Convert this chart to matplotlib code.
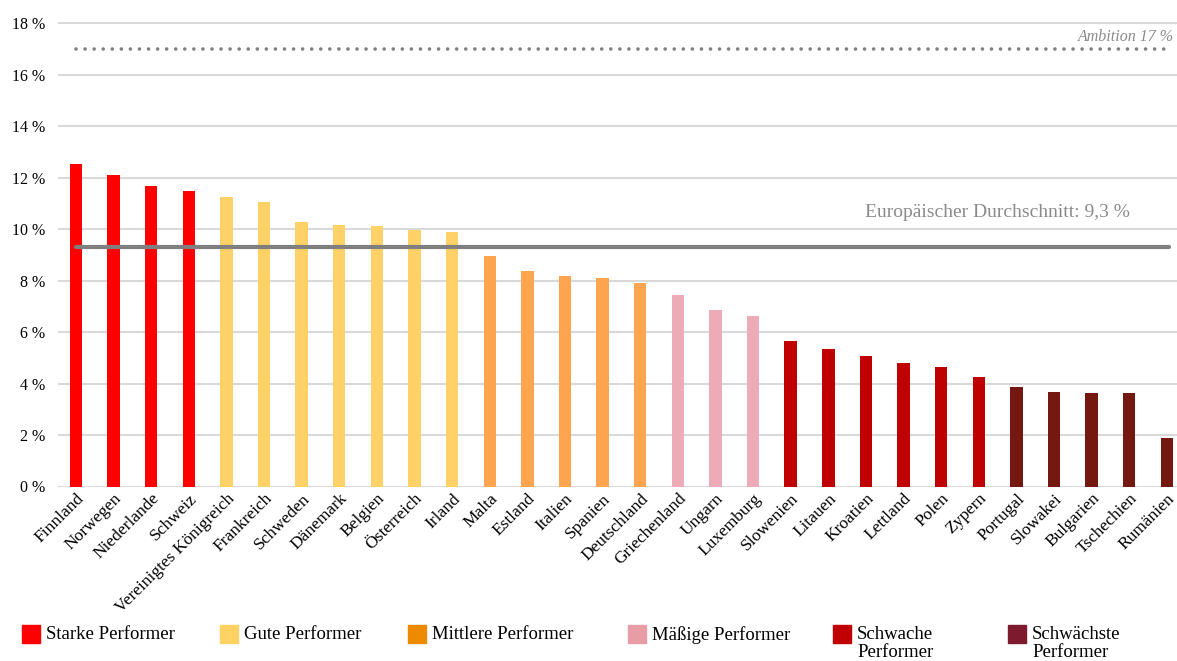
import matplotlib
matplotlib.use("Agg")
import matplotlib.pyplot as plt
from matplotlib.patches import Rectangle

countries = ["Finnland", "Norwegen", "Niederlande", "Schweiz", "Vereinigtes Königreich",
             "Frankreich", "Schweden", "Dänemark", "Belgien", "Österreich", "Irland",
             "Malta", "Estland", "Italien", "Spanien", "Deutschland", "Griechenland",
             "Ungarn", "Luxemburg", "Slowenien", "Litauen", "Kroatien", "Lettland",
             "Polen", "Zypern", "Portugal", "Slowakei", "Bulgarien", "Tschechien", "Rumänien"]
values = [12.55, 12.09, 11.66, 11.48, 11.25, 11.05, 10.26, 10.18, 10.12, 9.97, 9.89,
          8.96, 8.36, 8.17, 8.10, 7.89, 7.46, 6.84, 6.63, 5.66, 5.34, 5.06, 4.81,
          4.63, 4.26, 3.86, 3.66, 3.63, 3.63, 1.87]
groups = [0] * 4 + [1] * 7 + [2] * 5 + [3] * 3 + [4] * 6 + [5] * 5

group_names = ["Starke Performer", "Gute Performer", "Mittlere Performer",
               "Mäßige Performer", "Schwache\nPerformer", "Schwächste\nPerformer"]
bar_colors = ["#FF0000", "#FFD166", "#FFA44F", "#EDABB7", "#C00000", "#741811"]
legend_colors = ["#FF0000", "#FFD264", "#EE8A00", "#E89CA6", "#C00000", "#7E1A2E"]

average = 9.3
ambition = 17
yticks = [0, 2, 4, 6, 8, 10, 12, 14, 16, 18]

plt.rcParams["font.family"] = ["Liberation Serif", "DejaVu Serif"]

W, H = 1177, 661
fig = plt.figure(figsize=(W / 100, H / 100), dpi=100)
ax = fig.add_axes([58 / W, 1 - 486.5 / H, 1 - 58 / W, (486.5 - 22) / H])

x = list(range(len(countries)))
ax.bar(x, values, width=0.33, color=[bar_colors[g] for g in groups], zorder=3)

ax.set_xlim(-0.478, 29.27)
ax.set_ylim(0, 18.05)
ax.set_yticks(yticks)
ax.set_yticklabels([f"{t} %" for t in yticks], fontsize=11.5)
ax.yaxis.grid(True, color="#d9d9d9", linewidth=1.5, zorder=0)
ax.set_axisbelow(True)
ax.tick_params(axis="y", length=0, pad=9)
ax.tick_params(axis="x", length=0, pad=7)
for s in ["top", "right", "left", "bottom"]:
    ax.spines[s].set_visible(False)

ax.set_xticks([i + 0.15 for i in x])
ax.set_xticklabels(countries, rotation=45, ha="right", va="center",
                   rotation_mode="anchor", fontsize=12.5)

# average line
ax.plot([x[0], x[-1] + 0.05], [average, average], color="#7f7f7f", linewidth=3,
        solid_capstyle="round", zorder=4)
ax.text(20.97, 10.66, "Europäischer Durchschnitt: 9,3 %", color="#8a8a8a",
        fontsize=14, ha="left", va="center", zorder=2,
        bbox=dict(facecolor="white", edgecolor="none", pad=5))

# ambition line
ax.plot([x[0], x[-1]], [ambition, ambition], color="#808080", linewidth=2.6,
        dashes=(0.01, 2.5), dash_capstyle="round", zorder=4)
ax.text(29.2, 17.45, "Ambition 17 %", color="#8a8a8a", fontsize=11.5,
        style="italic", ha="right", va="center", clip_on=False)

# legend
leg_x = [22, 220, 408, 628, 833, 1008]
for lx, name, c in zip(leg_x, group_names, legend_colors):
    fig.patches.append(Rectangle((lx / W, 1 - 643 / H), 18 / W, 18 / H,
                                 transform=fig.transFigure, color=c))
    fig.text((lx + 24) / W, 1 - 626 / H, name, fontsize=13.5, ha="left", va="top",
             linespacing=1.05)

fig.savefig("out.png", dpi=100)
